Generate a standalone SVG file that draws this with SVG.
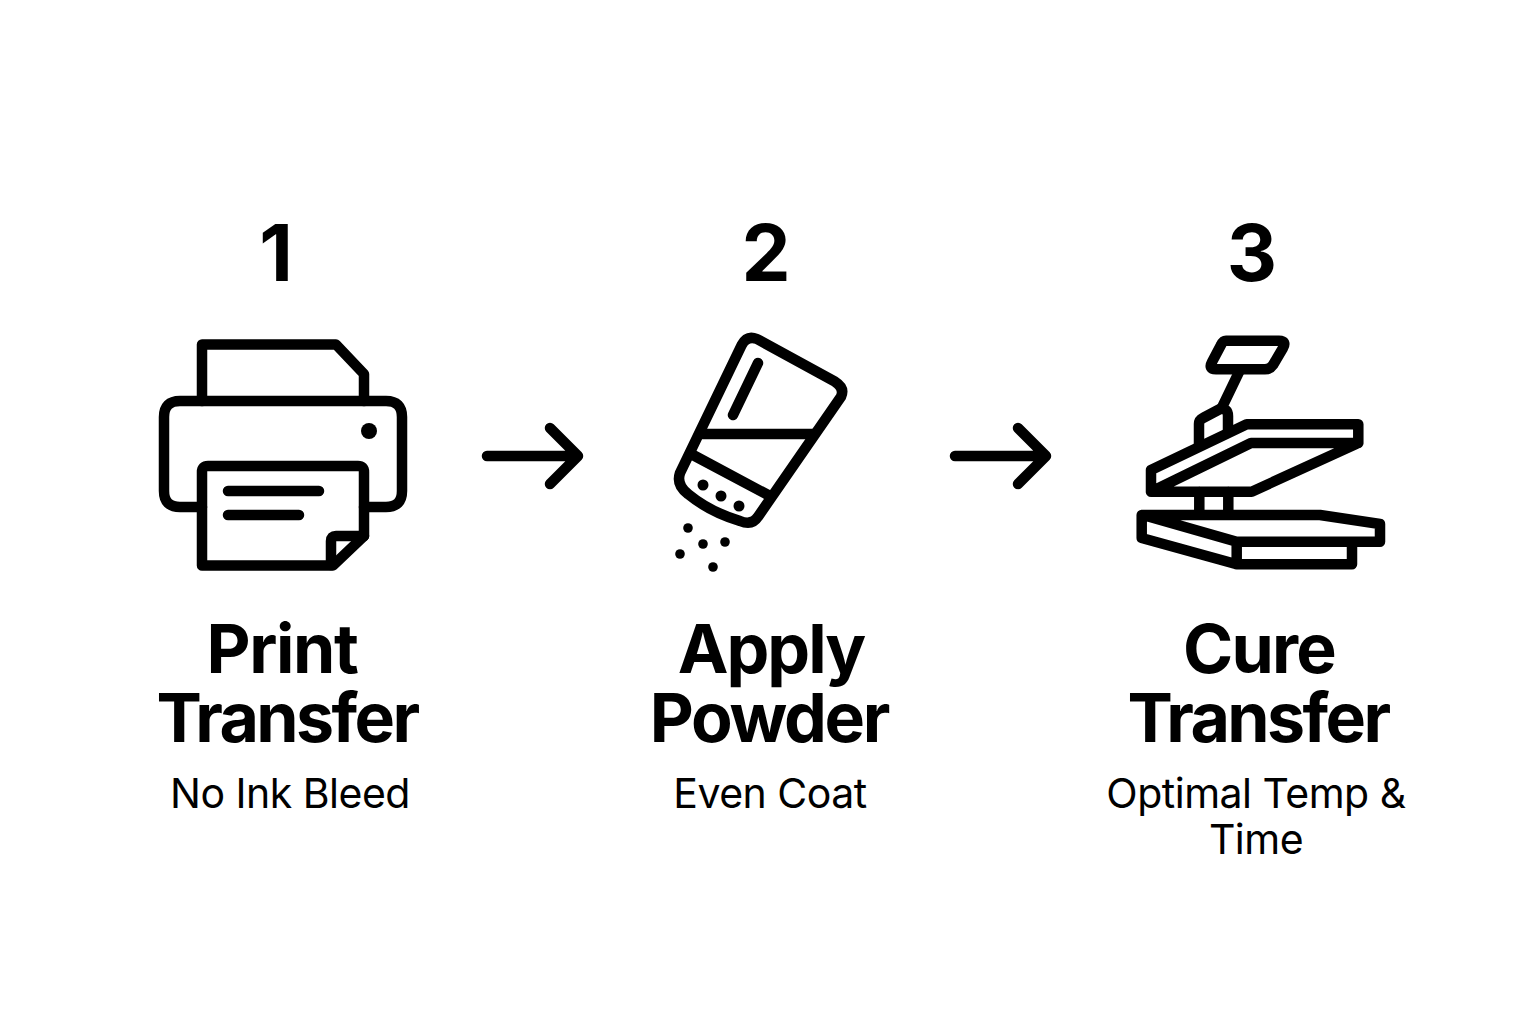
<svg xmlns="http://www.w3.org/2000/svg" width="1536" height="1024" viewBox="0 0 1536 1024">
<style>
.l{fill:none;stroke:#000;stroke-width:10.500;stroke-linecap:round;stroke-linejoin:round}
.d{fill:#000}
text{font-family:Inter,"Liberation Sans",sans-serif;fill:#000;text-anchor:middle}
.n{font-size:78px;font-weight:700}
.t{font-size:68px;font-weight:700;letter-spacing:-2.600px}
.s{font-size:41px;font-weight:400;letter-spacing:-0.500px}
</style>
<rect width="1536" height="1024" fill="#fff"/>
<g id="connectors">
<path class="l" d="M487 456H578M550 428L578 456L550 484"/>
<path class="l" d="M955 456H1046M1018 428L1046 456L1018 484"/>
</g>
<g id="step1">
<text class="n" x="276" y="281">1</text>
<path class="l" d="M202 401V344.500H336L364 374V401"/>
<path class="l" d="M202 507H180Q164 507 164 491V417Q164 401 180 401H386Q402 401 402 417V491Q402 507 386 507H364"/>
<path class="l" d="M202 565.500V472Q202 466 208 466H358Q364 466 364 472V536L333 565.500H202Z"/>
<path class="l" d="M331 565V541Q331 536 336 536H364"/>
<path class="l" d="M228 491H319M228 515H299"/>
<circle class="d" cx="369" cy="431" r="8"/>
<text class="t" x="282" y="673" style="letter-spacing:-1.400px">Print</text>
<text class="t" x="287" y="742">Transfer</text>
<text class="s" x="290" y="808">No Ink Bleed</text>
</g>
<g id="step2">
<text class="n" x="766" y="281">2</text>
<path class="l" d="M680 473L741.700 345Q747 335 757 339L835 381.700Q845 388 841 396.700L758 516.700Q752 526 740 521Q710 512 688 494Q676 485 680 473Z"/>
<path class="l" d="M703 434H813M693 455L768 495M758 363L733 415"/>
<g class="d"><circle cx="703" cy="485" r="5.500"/><circle cx="721" cy="496" r="5.500"/><circle cx="739" cy="506" r="5.500"/><circle cx="688" cy="528" r="4.800"/><circle cx="703" cy="544" r="4.800"/><circle cx="725" cy="542" r="4.800"/><circle cx="680" cy="554" r="4.800"/><circle cx="713" cy="567" r="4.800"/></g>
<text class="t" x="771" y="673" style="letter-spacing:-2px">Apply</text>
<text class="t" x="769" y="742" style="letter-spacing:-2.300px">Powder</text>
<text class="s" x="770" y="808">Even Coat</text>
</g>
<g id="step3">
<text class="n" x="1252" y="281">3</text>
<path class="l" d="M1226 340.700H1279Q1287 340.700 1283 348L1273 365Q1270 369.300 1265 369.300H1216Q1208 369.300 1212 362L1221 345Q1223 340.700 1226 340.700Z"/>
<path class="l" d="M1240 370L1221.700 408"/>
<path class="l" d="M1199 445V424Q1199 420 1203 418L1220 409Q1228 408 1228 416V431"/>
<path class="l" d="M1151 491.700V470L1246.700 424.300H1358.300V443H1251L1151 491.700H1251.700L1358.300 443"/>
<path class="l" d="M1199.300 492V512M1228.300 492V512"/>
<path class="l" d="M1236.700 541.700L1143 515H1320L1380 524V541.700H1236.700V564.300L1141.700 538V515M1236.700 564.300H1352V542"/>
<text class="t" x="1259" y="673" style="letter-spacing:-1.800px">Cure</text>
<text class="t" x="1258" y="742">Transfer</text>
<text class="s" x="1256" y="808">Optimal Temp &amp;</text>
<text class="s" x="1256" y="854">Time</text>
</g>
</svg>
